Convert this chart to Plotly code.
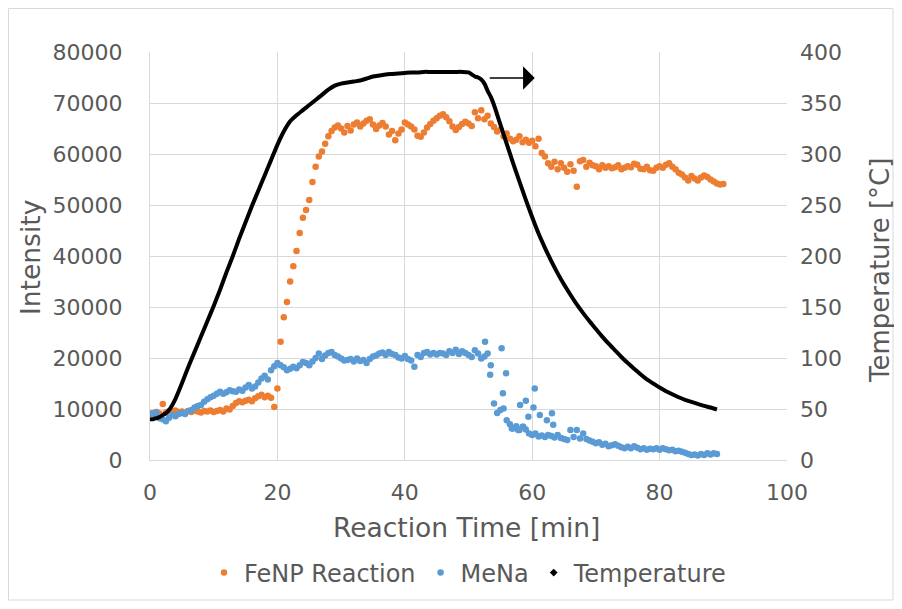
import numpy as np
import plotly.graph_objects as go

# ---------------- data ----------------
sample_step = 0.5  # min between samples of the intensity series

fenp_intensity = [
    9000, 9200, 9400, 9100, 11000, 9300, 9600, 9500, 9700, 9400,
    9500, 9300, 9600, 9400, 9700, 9500, 9300, 9600, 9500, 9700,
    9400, 9600, 9800, 9500, 10100, 9900, 10600, 11200, 11500, 11300,
    11600, 11800, 11500, 12100, 12500, 12800, 12300, 12600, 12200, 10400,
    14000, 23200, 28000, 31000, 35000, 38000, 41000, 44500, 47500, 49000,
    51000, 54500, 57500, 59500, 60500, 62000, 63500, 64500, 65200, 65600,
    65000, 64200, 65500, 64600, 65800, 66200, 65400, 66000, 66500, 66800,
    65800, 64900, 65600, 66100, 65400, 63800, 64500, 62700, 64000, 64800,
    66200, 65800, 65400, 64800, 63600, 63400, 64200, 65200, 65900, 66500,
    67000, 67500, 67800, 67200, 66400, 65400, 64700, 65300, 65900, 66300,
    66000, 65500, 68200, 67000, 68600, 66800, 67500, 66000, 65300, 64400,
    64800, 63500, 64000, 63000, 62500, 62800, 63500, 62300, 62800, 62200,
    62600, 61500, 63000, 60200, 59500, 58200, 57500, 58500, 57000, 58200,
    57300, 56500, 58000, 56700, 53600, 58600, 58800, 57500, 58300, 57800,
    57600, 57000, 57800, 57300, 57600, 57200, 57400, 57800, 57000, 57300,
    57600, 57400, 58100, 57900, 57100, 57000, 57500, 56800, 56700, 57300,
    57600, 57300, 57900, 58200, 57500, 57000, 56300, 56000, 55400, 54800,
    55700, 55200, 54800, 55400, 55800, 55500, 55000, 54600, 54200, 54000,
    54100,
]

mena_intensity = [
    9100, 8900, 9300, 8200, 8000, 7600, 8300, 8800, 8600, 9000,
    9200, 9000, 9600, 9800, 10300, 10600, 10800, 11400, 11900, 12300,
    12600, 13000, 13400, 13000, 13300, 13700, 13500, 13400, 13800, 13600,
    14200, 14700, 14000, 14400, 15200, 16000, 16500, 15800, 17600, 18400,
    19000, 18600, 18200, 17600, 17900, 18300, 18000, 18600, 19200, 19000,
    18600, 19300, 20000, 20900, 19800, 20500, 21000, 21200, 20600, 20300,
    19900, 19500, 19600, 19800, 19300, 19900, 19400, 19600, 19000, 19800,
    20300, 20500, 20900, 21100, 20600, 21200, 20800, 20600, 20100, 19900,
    20400, 19800, 19500, 18300, 20600, 20200, 21000, 21200, 20700, 21000,
    20700, 21000, 20900, 20600, 21300, 21000, 21600, 20800, 21300, 21000,
    20600, 20200, 21500, 20900, 19900, 20300, 20900, 18600, 11100, 9200,
    9800, 10100, 7800, 7000, 6200, 6600, 5900, 6500, 6000, 5200,
    4900, 5200, 4600, 4800, 4500, 4900, 4700, 4400, 4900, 4300,
    4100, 3900, 5900, 4500, 5900, 4200, 5200, 4100, 3800, 3600,
    3300, 3500, 3000, 3200, 2700, 2900, 3100, 2800, 2500, 2300,
    2600, 2300, 2700, 2400, 2100, 2300, 2000, 2200, 2100, 2300,
    2000, 2300, 2100, 1900, 2000, 1700, 1800, 1600, 1400, 1200,
    1000, 1100, 900, 1200, 1000, 1300, 1100, 1300, 1200,
]

# scattered MeNa readings during the drop
mena_extra_time = [52.6, 53.4, 55.2, 55.9, 55.4, 58.1, 59.0, 60.4, 60.2, 59.4,
                   61.2, 62.3, 63.1, 63.3, 56.8, 57.8, 58.6]
mena_extra_intensity = [23200, 16700, 21900, 17000, 13100, 10800, 11600, 14000, 10300, 8500,
                        8800, 7800, 9150, 6900, 6200, 5900, 6500]

temp_time = [0, 0.5, 1, 1.5, 2, 2.5, 3, 3.5, 4, 5, 6, 7, 8, 9, 10, 11, 12, 13, 14, 15,
             16, 17, 18, 19, 20, 21, 22, 23, 24, 25, 26, 27, 28, 29, 30, 31, 32, 33, 34, 35,
             36, 37, 38, 39, 40, 41, 42, 43, 44, 45, 46, 47, 48, 49, 50, 50.5, 51, 51.5, 52, 52.5,
             53, 53.5, 54, 55, 56, 57, 58, 59, 60, 61, 62, 63, 64, 65, 66, 67, 68, 69, 70,
             71, 72, 73, 74, 75, 76, 77, 78, 79, 80, 81, 82, 83, 84, 85, 86, 87, 88, 89]
temp_celsius = [40, 40, 41, 42, 44, 46, 49, 54, 60, 75, 91, 106, 121, 136, 151, 167, 184, 200, 217, 233,
                249, 264, 279, 294, 309, 322, 332, 338, 343, 348, 353, 358, 363, 367, 369, 370, 371, 372, 374, 376,
                377, 378, 378.5, 379, 379.5, 380, 380, 380.5, 380.5, 380.5, 380.5, 380.5, 380.5, 380.5, 380, 378, 376, 375, 373, 369,
                362, 356, 348, 329, 310, 291, 273, 255, 238, 222, 208, 195, 183, 172, 162, 152.5, 144, 136, 128.5,
                121, 114, 107.5, 101, 95, 89.5, 84, 79, 75, 71, 67.5, 64.5, 61.5, 59, 57, 55, 53, 51.5, 49.5]

x_ticks = [0, 20, 40, 60, 80, 100]
left_ticks = [0, 10000, 20000, 30000, 40000, 50000, 60000, 70000, 80000]
right_ticks = [0, 50, 100, 150, 200, 250, 300, 350, 400]

# ---------------- figure ----------------
ORANGE = "#ED7D31"
BLUE = "#5B9BD5"
GRID = "#d9d9d9"
TXT = "#595959"
FONT = "DejaVu Sans, Verdana, sans-serif"

# the page adds an 8 px body margin; plot area is placed at page px 150..787 x 52..460
OFF = 8
PL, PR, PT, PB = 150, 787, 52, 460
W, H = 902 - OFF, 609 - OFF


def px(xp):
    return (xp - PL) / (PR - PL)


def py(yp):
    return (PB - yp) / (PB - PT)


fenp_time = np.arange(len(fenp_intensity)) * sample_step
mena_time = np.concatenate([np.arange(len(mena_intensity)) * sample_step, mena_extra_time])
mena_all = list(mena_intensity) + list(mena_extra_intensity)

fig = go.Figure()

fig.add_trace(go.Scatter(
    x=fenp_time, y=fenp_intensity, mode="markers", name="FeNP Reaction",
    marker=dict(color=ORANGE, size=6.5, line=dict(width=0)), yaxis="y"))
fig.add_trace(go.Scatter(
    x=mena_time, y=mena_all, mode="markers", name="MeNa",
    marker=dict(color=BLUE, size=6.5, line=dict(width=0)), yaxis="y"))
fig.add_trace(go.Scatter(
    x=temp_time, y=temp_celsius, mode="lines", name="Temperature",
    line=dict(color="black", width=4, shape="spline", smoothing=0.6),
    showlegend=False, yaxis="y2"))
# legend entry for temperature (small diamond marker)
fig.add_trace(go.Scatter(
    x=[None], y=[None], mode="markers", name="Temperature",
    marker=dict(color="black", size=6, symbol="diamond"), yaxis="y2"))

fig.update_layout(
    width=W, height=H,
    margin=dict(l=PL - OFF, r=W - (PR - OFF), t=PT - OFF, b=H - (PB - OFF), autoexpand=False),
    paper_bgcolor="white", plot_bgcolor="white",
    font=dict(family=FONT, color=TXT, size=22),
    showlegend=True,
    legend=dict(orientation="h", x=px(468), xanchor="center", y=py(573), yanchor="middle",
                font=dict(size=24, color=TXT), itemsizing="trace",
                bgcolor="rgba(0,0,0,0)", itemwidth=30, tracegroupgap=0),
    xaxis=dict(range=[0, 100], tickvals=x_ticks, showgrid=True, gridcolor=GRID, gridwidth=1,
               zeroline=False, showline=True, linecolor=GRID, linewidth=1, ticks="",
               tickfont=dict(size=22, color=TXT), ticklabelstandoff=13),
    yaxis=dict(range=[0, 80000], tickvals=left_ticks, tickformat="d", showgrid=True,
               gridcolor=GRID, gridwidth=1,
               zeroline=False, showline=True, linecolor=GRID, linewidth=1, ticks="",
               tickfont=dict(size=22, color=TXT), ticklabelstandoff=22),
    yaxis2=dict(range=[0, 400], tickvals=right_ticks, tickformat="d", overlaying="y", side="right",
                showgrid=False, zeroline=False, showline=False, ticks="",
                tickfont=dict(size=22, color=TXT), ticklabelstandoff=12),
)

# axis titles
fig.add_annotation(text="Reaction Time [min]", xref="paper", yref="paper", x=px(466), y=py(527),
                   showarrow=False, font=dict(size=26.5, color=TXT), xanchor="center", yanchor="middle")
fig.add_annotation(text="Intensity", xref="paper", yref="paper", x=px(30), y=py(257),
                   showarrow=False, textangle=-90, font=dict(size=26.5, color=TXT),
                   xanchor="center", yanchor="middle")
fig.add_annotation(text="Temperature [°C]", xref="paper", yref="paper", x=px(880), y=py(271),
                   showarrow=False, textangle=-90, font=dict(size=26, color=TXT),
                   xanchor="center", yanchor="middle")

# arrow pointing to the right-hand (temperature) axis
fig.add_annotation(x=60.4, y=374.5, xref="x", yref="y2", ax=53.1, ay=374.5,
                   axref="x", ayref="y2", showarrow=True, arrowhead=1, arrowsize=2.6,
                   arrowwidth=1.5, arrowcolor="black", text="")

# outer chart border
fig.add_shape(type="rect", xref="paper", yref="paper",
              x0=px(8.5), x1=px(893), y0=py(600), y1=py(8.5),
              line=dict(color=GRID, width=1), fillcolor="rgba(0,0,0,0)", layer="below")

fig.write_html("out.html")
